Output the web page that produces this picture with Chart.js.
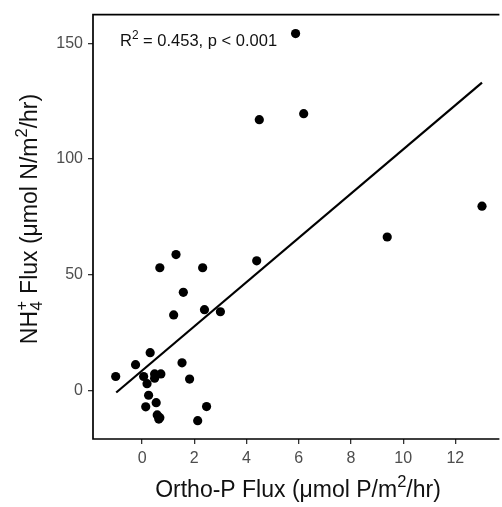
<!DOCTYPE html>
<html>
<head>
<meta charset="utf-8">
<script src="https://cdn.jsdelivr.net/npm/chart.js@4.4.1/dist/chart.umd.min.js"></script>
<style>
  html, body { margin: 0; padding: 0; background: #fff; }
  #wrap { width: 502px; height: 507px; }
</style>
</head>
<body>
<div id="wrap"><canvas id="fluxChart" width="502" height="507"></canvas></div>
<script>
// Ortho-P flux (x) vs NH4+ flux (y)
const orthoP = [5.88, 4.49, 6.19, 13.02, 9.39, 4.39, 1.30, 0.68, 2.32, 1.58,
                1.21, 2.39, 3.00, 0.31, -0.25, 1.53, -1.01, 0.06, 0.48, 0.48,
                0.72, 0.19, 1.82, 0.25, 0.14, 0.54, 2.47, 0.58, 0.64, 0.68, 2.13];
const nh4Flux = [154.2, 117.0, 119.6, 79.6, 66.3, 56.0, 58.7, 53.0, 53.0, 42.4,
                 32.6, 34.9, 34.0, 16.3, 11.1, 11.9, 6.0, 6.0, 7.1, 5.3,
                 7.1, 2.9, 4.9, -2.1, -7.1, -5.3, -7.0, -10.6, -12.4, -11.8, -13.1];
// fitted regression line end points
const fitX = [-0.99, 13.02];
const fitY = [-0.9, 133.0];

const xTicks = [0, 2, 4, 6, 8, 10, 12];
const yTicks = [0, 50, 100, 150];
const statLabel = { r: 'R', sup: '2', rest: ' = 0.453, p < 0.001' };

const FONT = '"Liberation Sans", Arial, Helvetica, sans-serif';

function measureParts(ctx, parts, size) {
    let w = 0;
    parts.forEach(p => {
        if (p.kind === 'subsup') {
            ctx.font = `${size * 0.72}px ${FONT}`;
            w += Math.max(ctx.measureText(p.sub).width, ctx.measureText(p.sup).width) + 1;
        } else if (p.kind === 'sup') {
            ctx.font = `${size * 0.72}px ${FONT}`;
            w += ctx.measureText(p.text).width;
        } else {
            ctx.font = `${size}px ${FONT}`;
            w += ctx.measureText(p.text).width;
        }
    });
    return w;
}

function paintParts(ctx, parts, size, x0, base) {
    let x = x0;
    parts.forEach(p => {
        if (p.kind === 'subsup') {
            ctx.font = `${size * 0.72}px ${FONT}`;
            ctx.fillText(p.sup, x + 0.5, base - size * 0.42);
            ctx.fillText(p.sub, x + 0.5, base + size * 0.22);
            x += Math.max(ctx.measureText(p.sub).width, ctx.measureText(p.sup).width) + 1;
        } else if (p.kind === 'sup') {
            ctx.font = `${size * 0.72}px ${FONT}`;
            ctx.fillText(p.text, x, base - size * 0.42);
            x += ctx.measureText(p.text).width;
        } else {
            ctx.font = `${size}px ${FONT}`;
            ctx.fillText(p.text, x, base);
            x += ctx.measureText(p.text).width;
        }
    });
}

const titlesPlugin = {
    id: 'titles',
    afterDraw(chart) {
        const ctx = chart.ctx;
        const a = chart.chartArea;
        ctx.save();
        // panel frame
        ctx.strokeStyle = '#000';
        ctx.lineWidth = 1.7;
        ctx.beginPath();
        ctx.moveTo(a.right + 2, a.top);
        ctx.lineTo(a.left, a.top);
        ctx.lineTo(a.left, a.bottom);
        ctx.lineTo(a.right + 2, a.bottom);
        ctx.stroke();

        ctx.fillStyle = '#111';
        ctx.textBaseline = 'alphabetic';
        ctx.textAlign = 'left';

        // x title
        const xParts = [{ text: 'Ortho-P Flux (\u03bcmol P/m' }, { kind: 'sup', text: '2' }, { text: '/hr)' }];
        const tSize = 23;
        const xw = measureParts(ctx, xParts, tSize);
        paintParts(ctx, xParts, tSize, 298 - xw / 2, 497);

        // y title
        const yParts = [{ text: 'NH' }, { kind: 'subsup', sub: '4', sup: '+' },
                        { text: ' Flux (\u03bcmol N/m' }, { kind: 'sup', text: '2' }, { text: '/hr)' }];
        const yw = measureParts(ctx, yParts, tSize);
        ctx.translate(37, 219);
        ctx.rotate(-Math.PI / 2);
        paintParts(ctx, yParts, tSize, -yw / 2, 0);
        ctx.setTransform(1, 0, 0, 1, 0, 0);

        // stats annotation
        paintParts(ctx, [{ text: statLabel.r }, { kind: 'sup', text: statLabel.sup }, { text: statLabel.rest }], 16.5, 120, 46);
        ctx.restore();
    }
};

const points = orthoP.map((x, i) => ({ x: x, y: nh4Flux[i] }));
const fitLine = fitX.map((x, i) => ({ x: x, y: fitY[i] }));

new Chart(document.getElementById('fluxChart'), {
    type: 'scatter',
    data: {
        datasets: [
            { data: fitLine, showLine: true, borderColor: '#000', borderWidth: 2.2, pointRadius: 0, order: 2 },
            { data: points, backgroundColor: '#000', borderColor: '#000', pointRadius: 4.6, borderWidth: 0, order: 1 }
        ]
    },
    options: {
        responsive: false,
        animation: false,
        layout: { padding: { top: 11, right: 0, left: 0, bottom: 0 } },
        plugins: { legend: { display: false }, tooltip: { enabled: false } },
        scales: {
            x: {
                type: 'linear', min: -1.88, max: 13.61,
                afterBuildTicks: s => { s.ticks = xTicks.map(v => ({ value: v })); },
                afterFit: s => { s.height = 68; },
                grid: { drawOnChartArea: false, drawTicks: true, tickLength: 5, color: '#333', lineWidth: 1.3 },
                border: { display: false },
                ticks: { color: '#4d4d4d', font: { family: FONT, size: 16 }, padding: 5, maxRotation: 0 }
            },
            y: {
                type: 'linear', min: -21, max: 162.4,
                afterBuildTicks: s => { s.ticks = yTicks.map(v => ({ value: v })); },
                afterFit: s => { s.width = 93; },
                grid: { drawOnChartArea: false, drawTicks: true, tickLength: 5, color: '#333', lineWidth: 1.3 },
                border: { display: false },
                ticks: { color: '#4d4d4d', font: { family: FONT, size: 16 }, padding: 5 }
            }
        }
    },
    plugins: [titlesPlugin]
});
</script>
</body>
</html>
